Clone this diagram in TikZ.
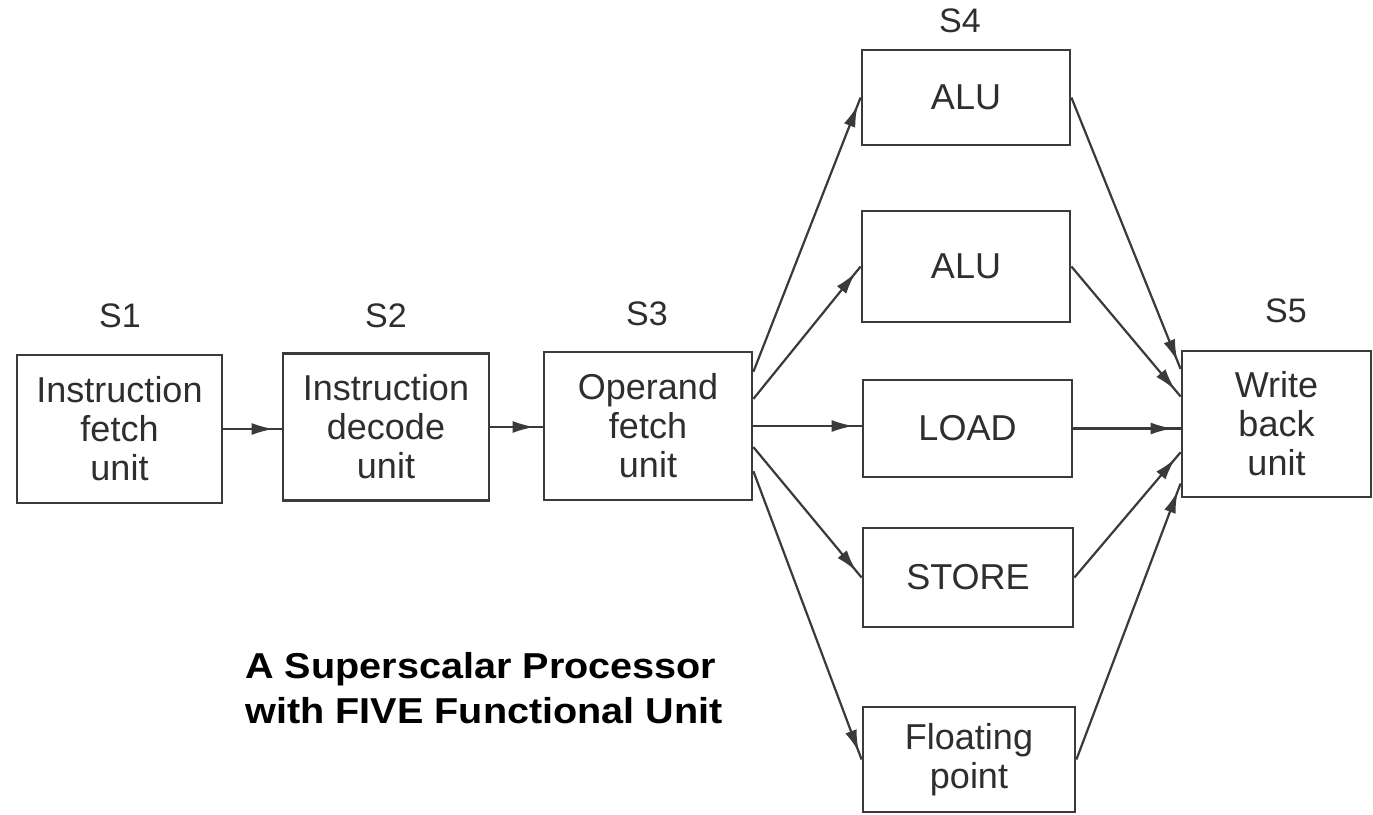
\documentclass[tikz,border=0pt]{standalone}
\usepackage{fontspec}
\setmainfont{Liberation Sans}
\newfontfamily\titlefont[FakeStretch=1.1]{Liberation Sans}
\usetikzlibrary{arrows.meta,decorations.markings,calc}
\definecolor{linec}{HTML}{3A3A3A}
\definecolor{textc}{HTML}{2E2E2E}
\begin{document}
\begin{tikzpicture}[x=0.5pt,y=-0.5pt,
  unitbox/.style={draw=linec, line width=1.4pt, align=center, inner sep=0pt, text=textc, font=\fontsize{18}{19.5}\selectfont},
  stagelbl/.style={text=textc, font=\fontsize{17}{20}\selectfont, inner sep=0pt},
  flow/.style={draw=linec, line width=1.1pt, postaction={decorate}, decoration={markings, mark=at position -4pt with {\arrow{Latex[length=11pt,width=6pt]}}}}]
\useasboundingbox (0,0) rectangle (1373,815);
\fill[white] (0,0) rectangle (1373,815);
% stage boxes
\node[unitbox, minimum width=102.5pt, minimum height=74pt] (s1) at (119.5,429) {Instruction\\fetch\\unit};
\node[unitbox, minimum width=103pt, minimum height=73.5pt] (s2) at (386,427) {Instruction\\decode\\unit};
\node[unitbox, minimum width=104pt, minimum height=74pt] (s3) at (648,426) {Operand\\fetch\\unit};
\node[unitbox, minimum width=104pt, minimum height=47.5pt] (alu1) at (966,97.5) {ALU};
\node[unitbox, minimum width=104pt, minimum height=55.5pt] (alu2) at (966,266.5) {ALU};
\node[unitbox, minimum width=104.5pt, minimum height=48.5pt] (load) at (967.5,428.5) {LOAD};
\node[unitbox, minimum width=105pt, minimum height=49.5pt] (store) at (968,577.5) {STORE};
\node[unitbox, minimum width=106pt, minimum height=52.5pt] (fp) at (969,759.5) {Floating\\point};
\node[unitbox, minimum width=94.5pt, minimum height=73pt] (s5) at (1276.5,424) {Write\\back\\unit};
% stage labels
\node[stagelbl] (l1) at (120,316) {S1};
\node[stagelbl] (l2) at (386,316) {S2};
\node[stagelbl] (l3) at (647,314) {S3};
\node[stagelbl] (l4) at (960,21) {S4};
\node[stagelbl] (l5) at (1286,311) {S5};
% title
\node[anchor=west, align=left, inner sep=0pt, font=\titlefont\bfseries\fontsize{18}{22.5}\selectfont] (title) at (245,688) {A Superscalar Processor\\with FIVE Functional Unit};
% connectors
\draw[flow] (s1.east) -- (s1.east -| s2.west);
\draw[flow] (s2.east) -- (s2.east -| s3.west);
\draw[flow] ($(s3.north east)!0.14!(s3.south east)$) -- (alu1.west);
\draw[flow] ($(s3.north east)!0.32!(s3.south east)$) -- (alu2.west);
\draw[flow] (s3.east) -- (s3.east -| load.west);
\draw[flow] ($(s3.north east)!0.64!(s3.south east)$) -- (store.west);
\draw[flow] ($(s3.north east)!0.80!(s3.south east)$) -- (fp.west);
\draw[flow] (alu1.east) -- ($(s5.north west)!0.13!(s5.south west)$);
\draw[flow] (alu2.east) -- ($(s5.north west)!0.315!(s5.south west)$);
\draw[flow] (load.east) -- (load.east -| s5.west);
\draw[flow] (store.east) -- ($(s5.north west)!0.69!(s5.south west)$);
\draw[flow] (fp.east) -- ($(s5.north west)!0.90!(s5.south west)$);
\end{tikzpicture}
\end{document}
